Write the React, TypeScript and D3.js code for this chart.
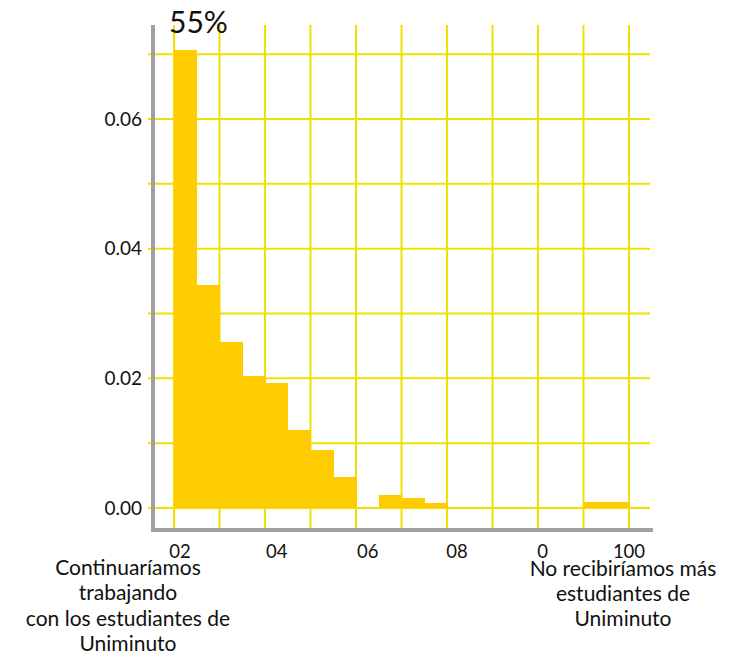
import * as d3 from "d3";

// histogram bins (start of each 5-unit bin) and density values
const binStarts = [0, 5, 10, 15, 20, 25, 30, 35, 40, 45, 50, 55, 60, 65, 70, 75, 80, 85, 90, 95];
const densities = [
  0.0707, 0.0344, 0.0256, 0.0204, 0.0193, 0.012, 0.0089, 0.0048, 0, 0.002,
  0.0015, 0.0008, 0, 0, 0, 0, 0, 0, 0.0009, 0.0009,
];
const binWidth = 5;

const yTicks = [0, 0.02, 0.04, 0.06];
const yGrid = [0, 0.01, 0.02, 0.03, 0.04, 0.05, 0.06, 0.07];
const xGrid = [0, 10, 20, 30, 40, 50, 60, 70, 80, 90, 100];
// tick labels as they appear on the chart, with their positions (x units)
const xTickLabels = ["02", "04", "06", "08", "0", "100"];
const xTickPos = [1.3, 22.6, 42.6, 62.2, 81, 100];

const leftLabel = ["Continuaríamos", "trabajando", "con los estudiantes de", "Uniminuto"];
const rightLabel = ["No recibiríamos más", "estudiantes de", "Uniminuto"];
const topLabel = "55%";

const W = 744;
const H = 655;
const font = "Lato, 'Open Sans', sans-serif";
const gridColor = "#f0e200";
const barColor = "#ffcc00";
const axisColor = "#a0a0a0";

export default function App() {
  const x = d3.scaleLinear().domain([0, 100]).range([174, 629]);
  const y = d3.scaleLinear().domain([0, 0.06]).range([508, 119]);

  return (
    <svg
      width={W}
      height={H}
      style={{ position: "absolute", left: 0, top: 0, background: "#fff" }}
      fontFamily={font}
    >
      {/* grid */}
      {yGrid.map((v) => (
        <line key={"h" + v} x1={148} x2={650} y1={y(v)} y2={y(v)} stroke={gridColor} strokeWidth={2} />
      ))}
      {xGrid.map((v) => (
        <line key={"v" + v} x1={x(v)} x2={x(v)} y1={25} y2={528} stroke={gridColor} strokeWidth={2} />
      ))}

      {/* bars */}
      <g shapeRendering="crispEdges">
        {binStarts.map((b, i) =>
          densities[i] > 0 ? (
            <rect
              key={"b" + b}
              x={x(b)}
              width={x(b + binWidth) - x(b) + 0.5}
              y={y(densities[i])}
              height={y(0) - y(densities[i])}
              fill={barColor}
            />
          ) : null
        )}
      </g>

      {/* axes */}
      <line x1={153} x2={153} y1={25} y2={532} stroke={axisColor} strokeWidth={4} />
      <line x1={151} x2={653} y1={530} y2={530} stroke={axisColor} strokeWidth={4} />

      {/* y tick labels */}
      {yTicks.map((v) => (
        <text key={"yt" + v} x={142} y={y(v)} dy="0.35em" textAnchor="end" fontSize={19} fill="#111">
          {d3.format(".2f")(v)}
        </text>
      ))}

      {/* x tick labels */}
      {xTickLabels.map((t, i) => (
        <text key={"xt" + i} x={x(xTickPos[i])} y={558} textAnchor="middle" fontSize={18.5} fill="#111">
          {t}
        </text>
      ))}

      {/* category labels */}
      <text textAnchor="middle" fontSize={21} fill="#111">
        {leftLabel.map((l, i) => (
          <tspan key={l} x={128} y={575 + i * 25.3}>
            {l}
          </tspan>
        ))}
      </text>
      <text textAnchor="middle" fontSize={21} fill="#111">
        {rightLabel.map((l, i) => (
          <tspan key={l} x={623} y={576 + i * 25}>
            {l}
          </tspan>
        ))}
      </text>

      <text x={169} y={33} fontSize={30} fill="#111">
        {topLabel}
      </text>
    </svg>
  );
}
